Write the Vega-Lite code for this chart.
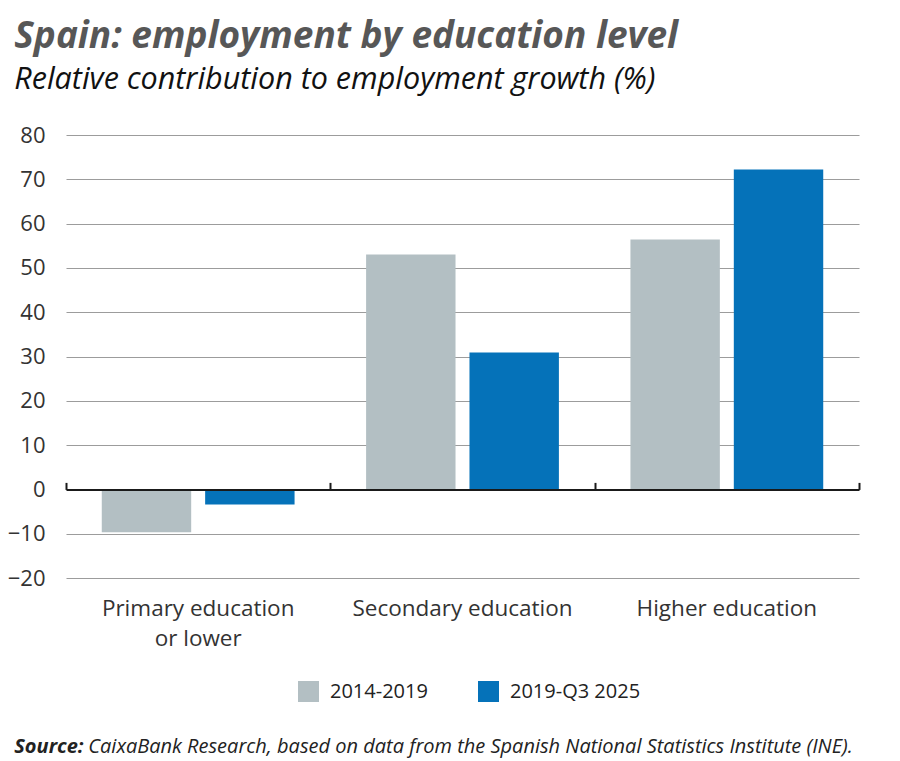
{
  "$schema": "https://vega.github.io/schema/vega-lite/v6.json",
  "background": "white",
  "padding": {"left": 7, "top": 17, "right": 10, "bottom": 6},
  "title": {
    "text": "Spain: employment by education level",
    "subtitle": "Relative contribution to employment growth (%)",
    "anchor": "start",
    "dx": 7,
    "font": "Open Sans",
    "fontSize": 37,
    "fontWeight": "bold",
    "fontStyle": "italic",
    "color": "#575757",
    "subtitleFont": "Open Sans",
    "subtitleFontSize": 30.5,
    "subtitleFontStyle": "italic",
    "subtitleFontWeight": "normal",
    "subtitleColor": "#111111",
    "subtitlePadding": 9,
    "offset": 28
  },
  "vconcat": [
    {
      "title": {
        "text": "CaixaBank Research, based on data from the Spanish National Statistics Institute (INE).",
        "orient": "bottom",
        "anchor": "start",
        "font": "Open Sans",
        "fontSize": 20,
        "fontStyle": "italic",
        "fontWeight": "normal",
        "color": "#222222",
        "offset": 0,
        "dx": 81,
        "dy": -20
      },
      "vconcat": [
        {
          "width": 793,
          "height": 443,
          "title": {
            "text": "Source:",
            "orient": "bottom",
            "anchor": "start",
            "dx": 7,
            "font": "Open Sans",
            "fontSize": 20,
            "fontStyle": "italic",
            "fontWeight": "bold",
            "color": "#222222",
            "offset": 35
          },
          "data": {
            "values": [
              {"Category": "Primary education or lower", "Period": "2014-2019", "value": -9.7},
              {"Category": "Primary education or lower", "Period": "2019-Q3 2025", "value": -3.4},
              {"Category": "Secondary education", "Period": "2014-2019", "value": 53.0},
              {"Category": "Secondary education", "Period": "2019-Q3 2025", "value": 30.9},
              {"Category": "Higher education", "Period": "2014-2019", "value": 56.4},
              {"Category": "Higher education", "Period": "2019-Q3 2025", "value": 72.2}
            ]
          },
          "layer": [
            {
              "mark": {"type": "bar"},
              "encoding": {
                "x": {
                  "field": "Category",
                  "type": "nominal",
                  "sort": null,
                  "scale": {"paddingInner": 0, "paddingOuter": 0},
                  "axis": {
                    "orient": "bottom",
                    "title": null,
                    "domain": false,
                    "ticks": false,
                    "labelAngle": 0,
                    "labelFontSize": 22.5,
                    "labelColor": "#333333",
                    "labelPadding": 19,
                    "labelLimit": 0,
                    "labelLineHeight": 30,
                    "labelExpr": "datum.label == 'Primary education or lower' ? ['Primary education', 'or lower'] : datum.label"
                  }
                },
                "xOffset": {
                  "field": "Period",
                  "type": "nominal",
                  "scale": {"paddingInner": 0.135, "paddingOuter": 0.346}
                },
                "y": {
                  "field": "value",
                  "type": "quantitative",
                  "scale": {"domain": [-20, 80], "nice": false},
                  "axis": {
                    "title": null,
                    "values": [-20, -10, 0, 10, 20, 30, 40, 50, 60, 70, 80],
                    "domain": false,
                    "ticks": false,
                    "grid": true,
                    "gridColor": "#9c9c9c",
                    "gridWidth": 1.2,
                    "labelFontSize": 22,
                    "labelColor": "#333333",
                    "labelPadding": 21
                  }
                },
                "color": {
                  "field": "Period",
                  "type": "nominal",
                  "scale": {"domain": ["2014-2019", "2019-Q3 2025"], "range": ["#B3BFC3", "#0572B9"]},
                  "legend": {
                    "title": null,
                    "orient": "none",
                    "direction": "horizontal",
                    "legendX": 232,
                    "legendY": 546,
                    "symbolType": "square",
                    "symbolSize": 441,
                    "symbolStrokeWidth": 0,
                    "labelFontSize": 20,
                    "labelColor": "#222222",
                    "labelOffset": 11,
                    "columnPadding": 50
                  }
                }
              }
            },
            {
              "mark": {"type": "text", "text": ""},
              "encoding": {
                "x": {
                  "field": "Category",
                  "type": "nominal",
                  "sort": null,
                  "axis": {
                    "orient": "top",
                    "offset": -354.4,
                    "title": null,
                    "labels": false,
                    "grid": false,
                    "domain": true,
                    "domainColor": "#1a1a1a",
                    "domainWidth": 2,
                    "ticks": true,
                    "tickBand": "extent",
                    "tickColor": "#1a1a1a",
                    "tickWidth": 2,
                    "tickSize": 7,
                    "zindex": 2
                  }
                },
                "y": {"datum": 0}
              }
            }
          ],
          "resolve": {"axis": {"x": "independent"}}
        }
      ],
      "resolve": {"scale": {"color": "independent"}}
    }
  ],
  "resolve": {"scale": {"color": "independent"}},
  "config": {
    "font": "Open Sans",
    "view": {"stroke": null}
  }
}
